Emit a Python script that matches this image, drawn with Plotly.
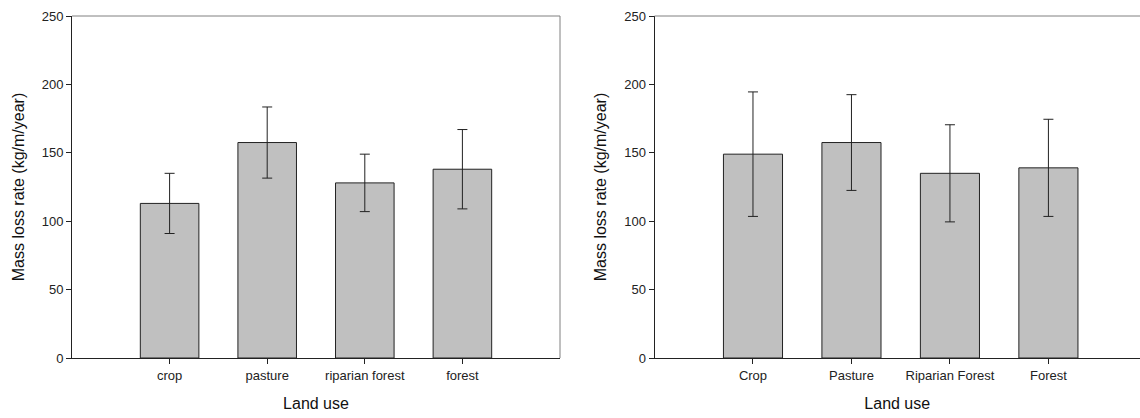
import plotly.graph_objects as go

# Data
categories_left = ["crop", "pasture", "riparian forest", "forest"]
values_left = [113, 157.5, 128, 138]
errors_left = [22, 26, 21, 29]

categories_right = ["Crop", "Pasture", "Riparian Forest", "Forest"]
values_right = [149, 157.5, 135, 139]
errors_right = [45.5, 35, 35.5, 35.5]

y_ticks = [0, 50, 100, 150, 200, 250]

FONT = "Liberation Sans, Arial, sans-serif"
W, H = 1140, 418

fig = go.Figure()

bar_style = dict(
    marker=dict(color="#c0c0c0", line=dict(color="#222222", width=1)),
    width=0.6,
    showlegend=False,
)
err_style = dict(type="data", visible=True, color="#222222", thickness=1, width=5)

fig.add_trace(go.Bar(x=categories_left, y=values_left,
                     error_y=dict(array=errors_left, **err_style),
                     xaxis="x", yaxis="y", **bar_style))
fig.add_trace(go.Bar(x=categories_right, y=values_right,
                     error_y=dict(array=errors_right, **err_style),
                     xaxis="x2", yaxis="y2", **bar_style))

common_x = dict(
    type="category", showline=True, linecolor="#222222", linewidth=1,
    ticks="outside", ticklen=5, tickcolor="#222222", tickwidth=1,
    showgrid=False, zeroline=False, mirror=False, automargin=False,
    tickfont=dict(family=FONT, size=13, color="#222222"),
    title=dict(text="Land use", font=dict(family=FONT, size=16, color="#111111"), standoff=16),
)
common_y = dict(
    range=[0, 250], tickvals=y_ticks, showline=True, linecolor="#222222", linewidth=1,
    ticks="outside", ticklen=5, tickcolor="#222222", tickwidth=1,
    showgrid=False, zeroline=False, mirror=False, automargin=False,
    tickfont=dict(family=FONT, size=13, color="#222222"),
    title=dict(text="Mass loss rate (kg/m/year)", font=dict(family=FONT, size=16, color="#111111"), standoff=13),
    domain=[0, 1],
)

fig.update_layout(
    width=W, height=H,
    autosize=False,
    margin=dict(l=0, r=0, t=16, b=60, pad=0, autoexpand=False),
    paper_bgcolor="white", plot_bgcolor="white",
    bargap=0.4,
    xaxis=dict(domain=[72 / W, 560 / W], range=[-1, 4], anchor="y", **common_x),
    yaxis=dict(anchor="x", **common_y),
    xaxis2=dict(domain=[654.5 / W, 1.0], range=[-1, 3.93], anchor="y2", **common_x),
    yaxis2=dict(anchor="x2", **common_y),
)

# Frame: top border on both panels, right border on left panel
border = dict(color="#808080", width=1)
fig.add_shape(type="line", xref="x domain", yref="y domain", x0=0, x1=1, y0=1, y1=1, line=border)
fig.add_shape(type="line", xref="x domain", yref="y domain", x0=1, x1=1, y0=0, y1=1, line=border)
fig.add_shape(type="line", xref="x2 domain", yref="y2 domain", x0=0, x1=1, y0=1, y1=1, line=border)

fig.write_html("out.html")
